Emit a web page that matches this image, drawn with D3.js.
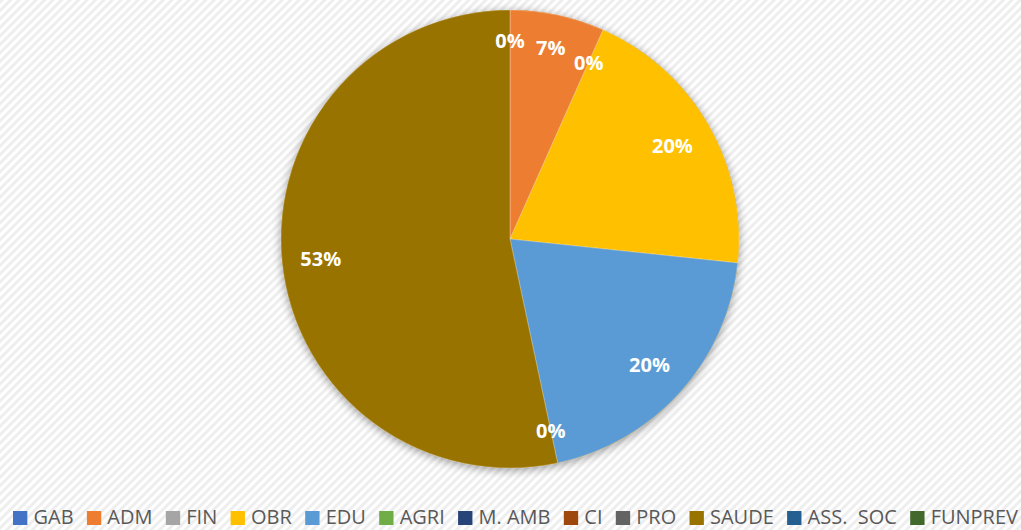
<!DOCTYPE html>
<html>
<head>
<meta charset="utf-8">
<script src="https://cdn.jsdelivr.net/npm/d3@7/dist/d3.min.js"></script>
<style>
  html, body { margin: 0; padding: 0; background: #fff; }
  svg { display: block; }
</style>
</head>
<body>
<div id="chart"></div>
<script>
// Data (counts out of 15)
const categories = ['GAB', 'ADM', 'FIN', 'OBR', 'EDU', 'AGRI', 'M. AMB', 'CI', 'PRO', 'SAUDE', 'ASS.  SOC', 'FUNPREV'];
const values = [0, 1, 0, 3, 3, 0, 0, 0, 0, 8, 0, 0];
const colors = ['#4472C4', '#ED7D31', '#A5A5A5', '#FFC000', '#5B9BD5', '#70AD47',
                '#264478', '#9E480E', '#636363', '#997300', '#255E91', '#43682B'];

const width = 1021, height = 530;
const cx = 510, cy = 239, radius = 229;

const svg = d3.select('#chart').append('svg')
    .attr('width', width)
    .attr('height', height);

const defs = svg.append('defs');

// Diagonal stripe background
const pattern = defs.append('pattern')
    .attr('id', 'stripes')
    .attr('patternUnits', 'userSpaceOnUse')
    .attr('width', 6)
    .attr('height', 6)
    .attr('patternTransform', 'rotate(-45)');
pattern.append('rect').attr('width', 6).attr('height', 6).attr('fill', '#ffffff');
pattern.append('rect').attr('width', 6).attr('height', 3).attr('fill', '#eeeeee');

const shadow = defs.append('filter')
    .attr('id', 'shadow')
    .attr('x', '-20%').attr('y', '-20%')
    .attr('width', '140%').attr('height', '140%');
shadow.append('feGaussianBlur').attr('in', 'SourceAlpha').attr('stdDeviation', 5);
shadow.append('feOffset').attr('dx', 0).attr('dy', 2).attr('result', 'blur');
shadow.append('feComponentTransfer').append('feFuncA').attr('type', 'linear').attr('slope', 0.4);
const merge = shadow.append('feMerge');
merge.append('feMergeNode');
merge.append('feMergeNode').attr('in', 'SourceGraphic');

svg.append('rect')
    .attr('width', width)
    .attr('height', height)
    .attr('fill', 'url(#stripes)');

const pie = d3.pie().sort(null).value(d => d)(values);
const total = d3.sum(values);
const arc = d3.arc().innerRadius(0).outerRadius(radius);

const g = svg.append('g').attr('transform', `translate(${cx},${cy})`);

g.append('circle')
    .attr('r', radius)
    .attr('fill', '#997300')
    .attr('filter', 'url(#shadow)');

g.selectAll('path.slice')
    .data(pie.filter(d => d.value > 0))
    .enter()
    .append('path')
    .attr('class', 'slice')
    .attr('d', arc)
    .attr('fill', d => colors[d.index])
    .attr('stroke', '#ffffff')
    .attr('stroke-opacity', 0.35)
    .attr('stroke-width', 0.8);

// Data labels (inside end); labels that land on the same spot are shown once
const seen = new Set();
const labels = [];
pie.forEach(d => {
    const mid = (d.startAngle + d.endAngle) / 2;
    let key = mid.toFixed(4);
    if (key === (2 * Math.PI).toFixed(4)) key = '0.0000';
    if (seen.has(key)) return;
    seen.add(key);
    labels.push({ d, mid, text: Math.round(d.value / total * 100) + '%' });
});

const labelSel = g.selectAll('text.label')
    .data(labels)
    .enter()
    .append('text')
    .attr('class', 'label')
    .attr('text-anchor', 'middle')
    .attr('dominant-baseline', 'central')
    .attr('fill', '#ffffff')
    .style('font-family', '"Open Sans", "DejaVu Sans", sans-serif')
    .style('font-weight', 'bold')
    .style('font-size', '20px')
    .text(d => d.text);

labelSel.each(function (l) {
    const bb = this.getBBox();
    const s = Math.abs(Math.sin(l.mid)), c = Math.abs(Math.cos(l.mid));
    const ext = bb.width / 2 * s + bb.height / 2 * c;
    const r = radius - 17 - ext;
    d3.select(this)
        .attr('x', r * Math.sin(l.mid))
        .attr('y', -r * Math.cos(l.mid));
});

// Legend: laid out at natural width, then squeezed to the reference span
const legendBase = 524.5;
const legendLeft = 13, legendRight = 1018;
const legend = svg.append('g');
let x = 0;
categories.forEach((name, i) => {
    const item = legend.append('g').attr('transform', `translate(${x},0)`);
    item.append('rect')
        .attr('width', 14).attr('height', 14)
        .attr('y', legendBase - 13.5)
        .attr('fill', colors[i]);
    const t = item.append('text')
        .attr('x', 20)
        .attr('y', legendBase)
        .attr('fill', '#595959')
        .attr('xml:space', 'preserve')
        .style('white-space', 'pre')
        .style('font-family', '"Open Sans", "DejaVu Sans", sans-serif')
        .style('font-size', '19.5px')
        .text(name);
    x += 20 + t.node().getComputedTextLength() + 13;
});
const naturalW = x - 13;
const sx = (legendRight - legendLeft) / naturalW;
legend.attr('transform', `translate(${legendLeft},0) scale(${sx},1)`);
</script>
</body>
</html>
